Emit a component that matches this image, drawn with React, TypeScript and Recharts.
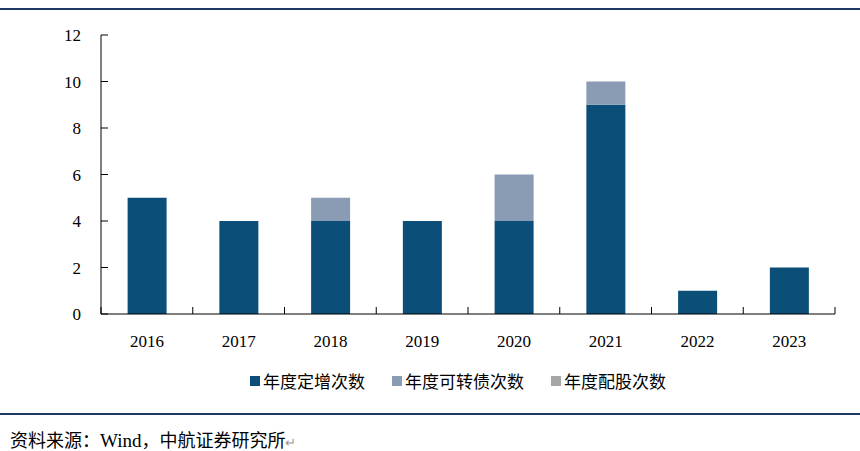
import { Bar, BarChart, XAxis, YAxis } from 'recharts';

const years = ['2016', '2017', '2018', '2019', '2020', '2021', '2022', '2023'];
const placementCounts = [5, 4, 4, 4, 4, 9, 1, 2];
const convertibleCounts = [0, 0, 1, 0, 2, 1, 0, 0];
const rightsIssueCounts = [0, 0, 0, 0, 0, 0, 0, 0];
const yTicks = [0, 2, 4, 6, 8, 10, 12];

const SERIES = [
  { key: 'placement', name: '年度定增次数', color: '#0b4f79' },
  { key: 'convertible', name: '年度可转债次数', color: '#8a9cb3' },
  { key: 'rights', name: '年度配股次数', color: '#a6a6a6' },
];

const chartData = years.map((year, i) => ({
  year,
  placement: placementCounts[i],
  convertible: convertibleCounts[i],
  rights: rightsIssueCounts[i],
}));

const WIDTH = 860;
const HEIGHT = 451;
const PLOT_LEFT = 101;
const PLOT_RIGHT = 25;
const BAND = (WIDTH - PLOT_LEFT - PLOT_RIGHT) / years.length;
const NUM_FONT = '"Liberation Serif", serif';
const CJK_FONT = '"Noto Sans CJK SC", sans-serif';

function XTick(props: any) {
  const { x, y, payload, index } = props;
  const half = BAND / 2;
  return (
    <g>
      <line x1={x - half} x2={x - half} y1={y - 7} y2={y} stroke="#000" strokeWidth={1} />
      {index === years.length - 1 && (
        <line x1={x + half} x2={x + half} y1={y - 7} y2={y} stroke="#000" strokeWidth={1} />
      )}
      <text x={x} y={y + 33} textAnchor="middle" fontFamily={NUM_FONT} fontSize={17} fill="#000">
        {payload.value}
      </text>
    </g>
  );
}

function YTick(props: any) {
  const { x, y, payload } = props;
  return (
    <g>
      <line x1={x} x2={x + 7} y1={y} y2={y} stroke="#000" strokeWidth={1} />
      <text x={x - 20} y={y + 6} textAnchor="end" fontFamily={NUM_FONT} fontSize={17} fill="#000">
        {payload.value}
      </text>
    </g>
  );
}

export default function App() {
  return (
    <div style={{ position: 'absolute', left: 0, top: 0, width: WIDTH, height: HEIGHT, background: '#fff' }}>
      <div style={{ position: 'absolute', left: 0, top: 8, width: WIDTH, height: 1.5, background: '#1f3864' }} />
      <BarChart
        width={WIDTH}
        height={HEIGHT}
        data={chartData}
        margin={{ top: 35, right: PLOT_RIGHT, left: 0, bottom: 107 }}
        barCategoryGap="29%"
      >
        <XAxis
          dataKey="year"
          height={30}
          tickLine={false}
          tickSize={0}
          tickMargin={0}
          axisLine={{ stroke: '#000', strokeWidth: 1 }}
          tick={<XTick />}
          interval={0}
        />
        <YAxis
          width={PLOT_LEFT}
          domain={[0, 12]}
          ticks={yTicks}
          tickLine={false}
          tickSize={0}
          tickMargin={0}
          axisLine={{ stroke: '#000', strokeWidth: 1 }}
          tick={<YTick />}
        />
        {SERIES.map((s) => (
          <Bar key={s.key} dataKey={s.key} name={s.name} stackId="a" fill={s.color} isAnimationActive={false} />
        ))}
      </BarChart>
      <div
        style={{
          position: 'absolute',
          top: 368,
          left: 250,
          display: 'flex',
          gap: 27,
          fontFamily: CJK_FONT,
          fontSize: 17,
          color: '#000',
          whiteSpace: 'nowrap',
        }}
      >
        {SERIES.map((s) => (
          <div key={s.key} style={{ display: 'flex', alignItems: 'center' }}>
            <span style={{ width: 10, height: 10, background: s.color, marginRight: 3, display: 'inline-block' }} />
            <span>{s.name}</span>
          </div>
        ))}
      </div>
      <div style={{ position: 'absolute', left: 0, top: 413, width: WIDTH, height: 1.5, background: '#1f3864' }} />
      <div
        style={{
          position: 'absolute',
          left: 10,
          top: 426,
          fontFamily: CJK_FONT,
          fontSize: 18,
          color: '#000',
          whiteSpace: 'nowrap',
        }}
      >
        资料来源：<span style={{ fontFamily: NUM_FONT, fontSize: 19 }}>Wind</span>，中航证券研究所
        <span style={{ color: '#999', fontSize: 13 }}>↵</span>
      </div>
    </div>
  );
}
